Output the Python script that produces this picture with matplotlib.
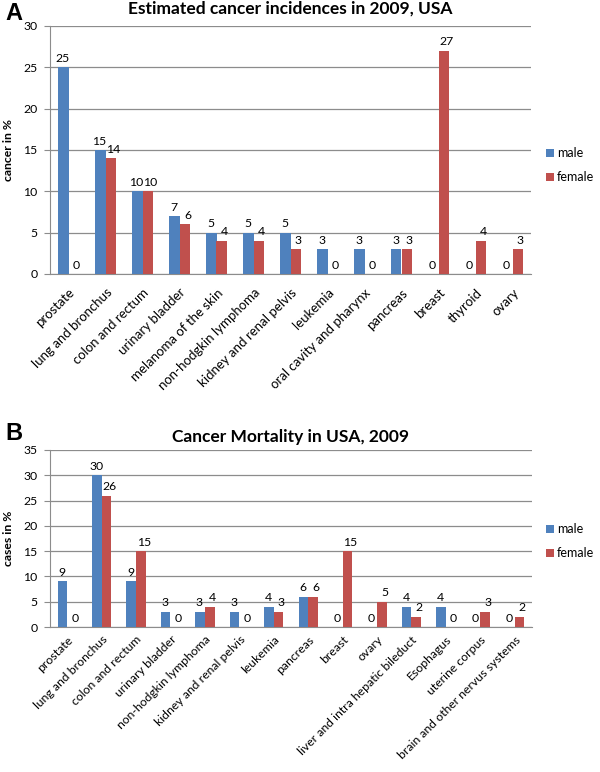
import matplotlib
matplotlib.use("Agg")
import matplotlib.pyplot as plt
import numpy as np

plt.rcParams['font.family'] = ['Lato', 'DejaVu Sans']

cats_a = ["prostate", "lung and bronchus", "colon and rectum", "urinary bladder",
          "melanoma of the skin", "non-hodgkin lymphoma", "kidney and renal pelvis",
          "leukemia", "oral cavity and pharynx", "pancreas", "breast", "thyroid", "ovary"]
male_a = [25, 15, 10, 7, 5, 5, 5, 3, 3, 3, 0, 0, 0]
female_a = [0, 14, 10, 6, 4, 4, 3, 0, 0, 3, 27, 4, 3]

cats_b = ["prostate", "lung and bronchus", "colon and rectum", "urinary bladder",
          "non-hodgkin lymphoma", "kidney and renal pelvis", "leukemia", "pancreas",
          "breast", "ovary", "liver and intra hepatic bileduct", "Esophagus",
          "uterine corpus", "brain and other nervus systems"]
male_b = [9, 30, 9, 3, 3, 3, 4, 6, 0, 0, 4, 4, 0, 0]
female_b = [0, 26, 15, 0, 4, 0, 3, 6, 15, 5, 2, 0, 3, 2]

BLUE = "#4F81BD"
RED = "#C0504D"
GRID = "#8C8C8C"

fig = plt.figure(figsize=(6.0, 7.72), dpi=100)


def panel(rect, cats, male, female, ymax, title, ylabel, letter, title_y, letter_xy,
          legend_y, xfs, xpad):
    ax = fig.add_axes(rect)
    x = np.arange(len(cats))
    w = 0.28
    bm = ax.bar(x - w / 2, male, w, color=BLUE, label="male", zorder=3)
    bf = ax.bar(x + w / 2, female, w, color=RED, label="female", zorder=3)
    for rects, vals, dx in ((bm, male, -0.5), (bf, female, 2.0)):
        for r, v in zip(rects, vals):
            ax.annotate(str(v), (r.get_x() + r.get_width() / 2, v),
                        xytext=(dx, 2.5), textcoords="offset points",
                        ha="center", va="bottom", fontsize=8.8, color="black")
    ax.set_xlim(-0.5, len(cats) - 0.5)
    ax.set_ylim(0, ymax)
    ax.set_yticks(np.arange(0, ymax + 1, 5))
    ax.grid(axis="y", color=GRID, linewidth=0.9, zorder=0)
    for s in ("top", "right"):
        ax.spines[s].set_visible(False)
    ax.spines["left"].set_color(GRID)
    ax.spines["bottom"].set_color(GRID)
    ax.tick_params(axis="y", length=4, color=GRID, labelsize=8.8, pad=5)
    ax.tick_params(axis="x", length=0, labelsize=xfs, pad=xpad)
    ax.set_xticks(x)
    ax.set_xticklabels(cats, rotation=45, ha="right", va="top", rotation_mode="anchor")
    ax.set_ylabel(ylabel, fontsize=8.8, fontweight="bold")
    ax.yaxis.set_label_coords(-0.075, 0.5)
    fig.text(290 / 600, 1 - title_y / 772, title, ha="center", va="center",
             fontsize=12.5, fontweight="bold")
    fig.text(letter_xy[0] / 600, 1 - letter_xy[1] / 772, letter, ha="center", va="center",
             fontsize=17, fontweight="bold", family=["Liberation Sans", "DejaVu Sans"])
    fig.legend(handles=[bm, bf], labels=["male", "female"], loc="center left",
               bbox_to_anchor=(546 / 600, 1 - legend_y / 772), frameon=False,
               fontsize=9, handlelength=0.6, handleheight=0.6, handletextpad=0.25,
               labelspacing=0.95, borderaxespad=0, borderpad=0)
    return ax


panel([50 / 600, 1 - 274 / 772, 481 / 600, 248 / 772], cats_a, male_a, female_a, 30,
      "Estimated cancer incidences in 2009, USA", "cancer in %", "A",
      9, (14, 14), 165, 9.5, 9)
panel([50 / 600, 1 - 627 / 772, 482 / 600, 177 / 772], cats_b, male_b, female_b, 35,
      "Cancer Mortality in USA, 2009", "cases in %", "B",
      437, (14, 434), 541, 8.8, 5)

fig.savefig("out.png", dpi=100)
